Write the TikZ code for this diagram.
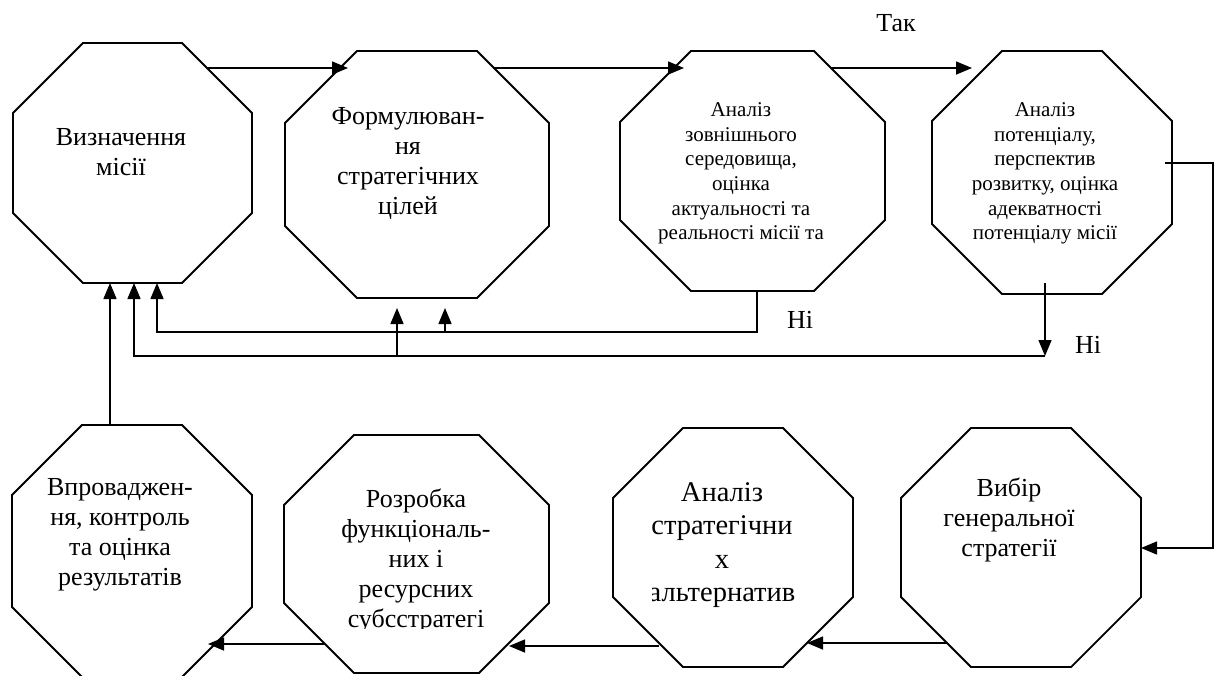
\documentclass[tikz,border=0pt]{standalone}
\usepackage{fontspec}
\setmainfont{Liberation Serif}
\usetikzlibrary{calc,arrows.meta}
\newcommand\myocta[2]{\draw[octline] ($(#1.north west)+(#2,0)$) -- ($(#1.north east)+(-#2,0)$) -- ($(#1.north east)+(0,#2)$) -- ($(#1.south east)+(0,-#2)$) -- ($(#1.south east)+(-#2,0)$) -- ($(#1.south west)+(#2,0)$) -- ($(#1.south west)+(0,-#2)$) -- ($(#1.north west)+(0,#2)$) -- cycle;}
\begin{document}
\begin{tikzpicture}[x=1pt,y=-1pt,
  octbox/.style={rectangle,draw=none,inner sep=0pt,outer sep=0pt},
  octline/.style={draw=black,line width=1.8pt,line join=miter},
  conn/.style={draw=black,line width=1.5pt},
  arr/.style={conn,-{Triangle[length=16pt,width=13pt]}},
  lbl/.style={font=\fontsize{26}{30}\selectfont,align=center,inner sep=0pt},
  sml/.style={font=\fontsize{21}{24.6}\selectfont,align=center,inner sep=0pt},
  big/.style={font=\fontsize{28.5}{33.5}\selectfont,align=center,inner sep=0pt}]
\useasboundingbox (0,0) rectangle (1215,675);
% octagon frames
\node[octbox,minimum width=239pt,minimum height=240pt] (o1) at (132.5,163) {};
\node[octbox,minimum width=264pt,minimum height=247pt] (o2) at (417,174.5) {};
\node[octbox,minimum width=265pt,minimum height=240pt] (o3) at (752.5,171) {};
\node[octbox,minimum width=240pt,minimum height=243pt] (o4) at (1052,172.5) {};
\node[octbox,minimum width=240pt,minimum height=252pt] (o5) at (132,551) {};
\node[octbox,minimum width=265pt,minimum height=238pt] (o6) at (416.5,554) {};
\node[octbox,minimum width=240pt,minimum height=239pt] (o7) at (733,547.5) {};
\node[octbox,minimum width=240pt,minimum height=239pt] (o8) at (1021,547.5) {};
\myocta{o1}{70}
\myocta{o2}{72}
\myocta{o3}{71}
\myocta{o4}{70}
\myocta{o5}{70}
\myocta{o6}{70}
\myocta{o7}{70}
\myocta{o8}{70}
% texts
\node[lbl] (t1) at (121,152) {Визначення\\місії};
\node[lbl] (t2) at (408,163) {Формулюван-\\ня\\стратегічних\\цілей};
\node[sml] (t3) at (741,173.5) {Аналіз\\зовнішнього\\середовища,\\оцінка\\актуальності та\\реальності місії та};
\node[sml] (t4) at (1045,173.5) {Аналіз\\потенціалу,\\перспектив\\розвитку, оцінка\\адекватності\\потенціалу місії};
\node[lbl] (t5) at (120,535) {Впроваджен-\\ня, контроль\\та оцінка\\результатів};
\begin{scope}
\clip (300,440) rectangle (540,628);
\node[lbl] (t6) at (416,561) {Розробка\\функціональ-\\них і\\ресурсних\\субсстратегі};
\end{scope}
\begin{scope}
\clip (652,440) rectangle (850,660);
\node[big] (t7) at (722,545) {Аналіз\\стратегічни\\х\\альтернатив\hspace{4pt}};
\end{scope}
\node[lbl] (t8) at (1009,520) {Вибір\\генеральної\\стратегії};
\node[lbl] (tak) at (896,23) {Так};
\node[lbl] (ni1) at (800,320) {Ні};
\node[lbl] (ni2) at (1088,345) {Ні};
% connectors, top row
\draw[arr] ($(o1.north east)+(-45,25)$) -- ($(o2.north west)+(63,17)$);
\draw[arr] ($(o2.north east)+(-56,17)$) -- ($(o3.north west)+(64,17)$);
\draw[arr] ($(o3.north east)+(-54,17)$) -- ($(o4.north west)+(40,17)$);
% feedback A
\draw[arr] ($(o3.south)+(4.5,0)$) -- ++(0,41) -| ($(o1.south)+(24.5,0)$);
\draw[arr] ($(o2.south)+(28,34)$) -- ($(o2.south)+(28,10)$);
% feedback B
\draw[arr] ($(o4.south)+(-7,-11)$) -- ($(o4.south)+(-7,62)$);
\draw[arr] ($(o4.south)+(-7,62)$) -| ($(o1.south)+(1.5,0)$);
\draw[arr] ($(o2.south)+(-20,58)$) -- ($(o2.south)+(-20,10)$);
% from implementation back to mission
\draw[arr] ($(o5.north)+(-22,0)$) -- ($(o1.south)+(-22.5,0)$);
% right side
\draw[arr] ($(o4.east)+(-7,-9.5)$) -- ++(48,0) |- ($(o8.east)+(0,0.5)$);
% bottom row
\draw[arr] ($(o8.south west)+(46,-24)$) -- ($(o7.south east)+(-46,-24)$);
\draw[arr] ($(o7.south west)+(46,-21)$) -- ($(o6.south east)+(-40,-27)$);
\draw[arr] ($(o6.south west)+(40,-29)$) -- ($(o5.south east)+(-44,-33)$);
\end{tikzpicture}
\end{document}
